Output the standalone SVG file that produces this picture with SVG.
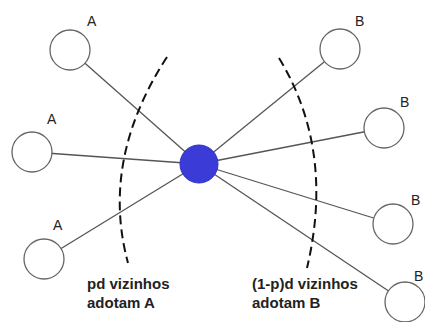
<svg xmlns="http://www.w3.org/2000/svg" width="425" height="322" viewBox="0 0 425 322">
<style>
.edge{stroke:#555;stroke-width:1.3;fill:none}
.nb{fill:#fff;stroke:#666;stroke-width:1.3}
.hub{fill:#3b3bd8;stroke:#3030c0;stroke-width:1}
.dash{stroke:#111;stroke-width:2;fill:none;stroke-dasharray:9 5}
.lbl{font-family:"Liberation Sans",Arial,sans-serif;font-size:14px;fill:#222}
.cap{font-family:"Liberation Sans",Arial,sans-serif;font-size:15px;font-weight:bold;fill:#222}
</style>
<rect width="425" height="322" fill="#fff"/>
<g id="connectors">
<line class="edge" x1="199" y1="164" x2="70" y2="50"/>
<line class="edge" x1="199" y1="164" x2="32" y2="152"/>
<line class="edge" x1="199" y1="164" x2="44" y2="259"/>
<line class="edge" x1="199" y1="164" x2="340" y2="49"/>
<line class="edge" x1="199" y1="164" x2="384" y2="128"/>
<line class="edge" x1="199" y1="164" x2="393" y2="224"/>
<line class="edge" x1="199" y1="164" x2="405" y2="302"/>
</g>
<g id="dividers">
<path class="dash" d="M167,57 Q100,160 128,263"/>
<path class="dash" d="M279,58 Q335,150 307,268"/>
</g>
<g id="a1"><circle class="nb" cx="70" cy="50" r="20"/><text class="lbl" x="87" y="26">A</text></g>
<g id="a2"><circle class="nb" cx="32" cy="152" r="20"/><text class="lbl" x="47" y="124">A</text></g>
<g id="a3"><circle class="nb" cx="44" cy="259" r="20"/><text class="lbl" x="53" y="230">A</text></g>
<g id="b1"><circle class="nb" cx="340" cy="49" r="20"/><text class="lbl" x="355" y="26">B</text></g>
<g id="b2"><circle class="nb" cx="384" cy="128" r="20"/><text class="lbl" x="400" y="107">B</text></g>
<g id="b3"><circle class="nb" cx="393" cy="224" r="20"/><text class="lbl" x="411" y="205">B</text></g>
<g id="b4"><circle class="nb" cx="405" cy="302" r="20"/><text class="lbl" x="414" y="281">B</text></g>
<g id="hub"><circle class="hub" cx="199" cy="164" r="19"/></g>
<g id="captionA"><text class="cap" x="87" y="289">pd vizinhos</text><text class="cap" x="87" y="308">adotam A</text></g>
<g id="captionB"><text class="cap" x="252" y="289">(1-p)d vizinhos</text><text class="cap" x="252" y="308">adotam B</text></g>
</svg>
